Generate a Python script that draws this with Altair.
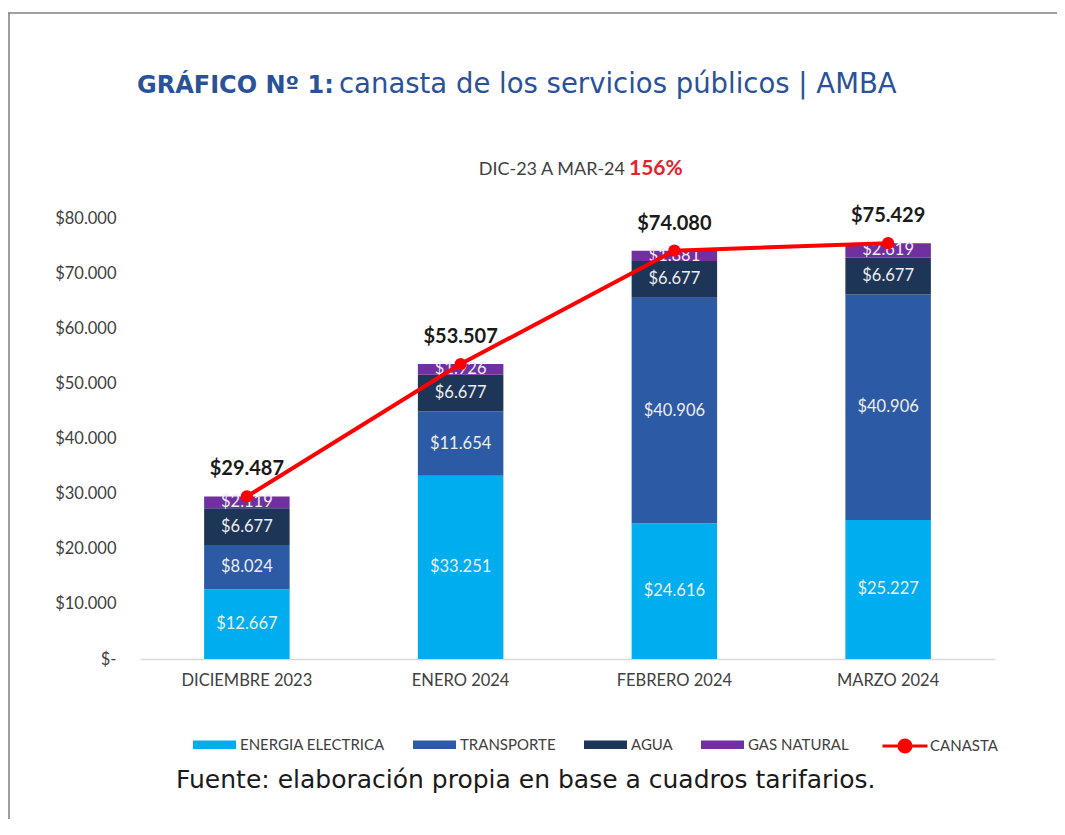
import altair as alt
import pandas as pd

months = ["DICIEMBRE 2023", "ENERO 2024", "FEBRERO 2024", "MARZO 2024"]
series = ["ENERGIA ELECTRICA", "TRANSPORTE", "AGUA", "GAS NATURAL"]
energia = [12667, 33251, 24616, 25227]
transporte = [8024, 11654, 40906, 40906]
agua = [6677, 6677, 6677, 6677]
gas = [2119, 1926, 1881, 2619]
canasta = [29487, 53507, 74080, 75429]
colors = ["#00AEEF", "#2C5AA4", "#1D3557", "#7030A0"]
y_ticks = [0, 10000, 20000, 30000, 40000, 50000, 60000, 70000, 80000]


def fmt(v):
    return "$" + f"{v:,}".replace(",", ".")


rows = []
for i, m in enumerate(months):
    base = 0
    for j, (s, vals) in enumerate(zip(series, [energia, transporte, agua, gas])):
        v = vals[i]
        rows.append({"mes": m, "serie": s, "valor": v, "orden": j,
                     "mid": base + v / 2, "label": fmt(v)})
        base += v
bars_df = pd.DataFrame(rows)
tot_df = pd.DataFrame({"mes": months, "total": canasta,
                       "label": [fmt(v) for v in canasta],
                       "serie": ["CANASTA"] * 4})

FONT = "Lato"
x_enc = alt.X("mes:N", sort=months, title=None,
              scale=alt.Scale(paddingInner=0.6, paddingOuter=0.3),
              axis=alt.Axis(labelAngle=0, labelFont=FONT, labelFontSize=16.5,
                            labelColor="#404040", labelPadding=13, ticks=False,
                            domainColor="#D9D9D9", domainWidth=1.5))
y_scale = alt.Scale(domain=[0, 80000], nice=False)

bars = alt.Chart(bars_df).mark_bar().encode(
    x=x_enc,
    y=alt.Y("valor:Q", stack="zero", scale=y_scale, title=None,
            axis=alt.Axis(values=y_ticks, grid=False, domain=False, ticks=False,
                          labelFont=FONT, labelFontSize=16.5, labelColor="#404040",
                          labelPadding=24,
                          labelExpr="datum.value == 0 ? '$-' : '$' + replace(format(datum.value, ',.0f'), regexp(',', 'g'), '.')")),
    color=alt.Color("serie:N", scale=alt.Scale(domain=series, range=colors),
                    legend=alt.Legend(title=None, orient="none", direction="horizontal",
                                      legendX=53, legendY=505,
                                      symbolType="M-1,-0.2H1V0.2H-1Z", symbolSize=1849,
                                      symbolStrokeWidth=0, labelFont=FONT,
                                      labelFontSize=15, labelColor="#404040",
                                      labelOffset=4, columnPadding=28)),
    order=alt.Order("orden:Q", sort="ascending"),
)

seg_text = alt.Chart(bars_df).mark_text(font=FONT, fontSize=16.5, color="#EEEEEE",
                                        baseline="middle").encode(
    x=alt.X("mes:N", sort=months),
    y=alt.Y("mid:Q", scale=y_scale),
    text="label:N",
)

line = alt.Chart(tot_df).mark_line(color="#FF0000", strokeWidth=4).encode(
    x=alt.X("mes:N", sort=months),
    y=alt.Y("total:Q", scale=y_scale),
)

points = alt.Chart(tot_df).mark_circle(size=150, opacity=1).encode(
    x=alt.X("mes:N", sort=months),
    y=alt.Y("total:Q", scale=y_scale),
    color=alt.Color("serie:N", scale=alt.Scale(domain=["CANASTA"], range=["#FF0000"]),
                    legend=alt.Legend(title=None, orient="none", direction="horizontal",
                                      legendX=741, legendY=504,
                                      symbolType="M-1,0H1M-0.27,0A0.27,0.27,0,1,1,0.27,0A0.27,0.27,0,1,1,-0.27,0Z",
                                      symbolSize=2025, symbolStrokeColor="#FF0000",
                                      symbolStrokeWidth=3, symbolFillColor="#FF0000",
                                      labelFont=FONT, labelFontSize=15,
                                      labelColor="#404040", labelOffset=1)),
)

tot_text = alt.Chart(tot_df).mark_text(font=FONT, fontSize=20, fontWeight="bold",
                                       color="#1A1A1A", dy=-27,
                                       baseline="middle").encode(
    x=alt.X("mes:N", sort=months),
    y=alt.Y("total:Q", scale=y_scale),
    text="label:N",
)

deco_df = pd.DataFrame({"k": [0]})
base = alt.Chart(deco_df)
TFONT = "DejaVu Sans"
title1 = base.mark_text(text="GRÁFICO Nº 1:", font=TFONT, fontSize=24,
                        fontWeight="bold", color="#2A5298", align="left",
                        baseline="alphabetic").encode(x=alt.value(-3), y=alt.value(-125))
title2 = base.mark_text(text="canasta de los servicios públicos | AMBA", font=TFONT,
                        fontSize=27.5, color="#2A5298", align="left",
                        baseline="alphabetic").encode(x=alt.value(199), y=alt.value(-125))
sub1 = base.mark_text(text="DIC-23 A MAR-24", font=FONT, fontSize=18, color="#404040",
                      align="right", baseline="alphabetic").encode(x=alt.value(485), y=alt.value(-43))
sub2 = base.mark_text(text="156%", font=FONT, fontSize=21, fontWeight="bold",
                      color="#E8202A", align="left",
                      baseline="alphabetic").encode(x=alt.value(489), y=alt.value(-43))
fuente = base.mark_text(text="Fuente: elaboración propia en base a cuadros tarifarios.",
                        font=TFONT, fontSize=25, color="#1A1A1A", align="left",
                        baseline="alphabetic").encode(x=alt.value(36), y=alt.value(570))
frame_top = base.mark_rule(color="#7F7F7F", strokeWidth=1.5).encode(
    x=alt.value(-132), x2=alt.value(917), y=alt.value(-205))
frame_left = base.mark_rule(color="#7F7F7F", strokeWidth=1.5).encode(
    x=alt.value(-131), y=alt.value(-205), y2=alt.value(610))

chart = alt.layer(
    bars, seg_text, line, points, tot_text,
    title1, title2, sub1, sub2, fuente, frame_top, frame_left
).resolve_scale(color="independent").properties(
    width=855, height=441,
    padding={"left": 132, "top": 210, "right": 62, "bottom": 160},
    autosize=alt.AutoSizeParams(type="none"),
    background="white",
).configure_view(strokeWidth=0, stroke=None)

chart.save("out.html", embed_options={"renderer": "svg", "actions": False})
